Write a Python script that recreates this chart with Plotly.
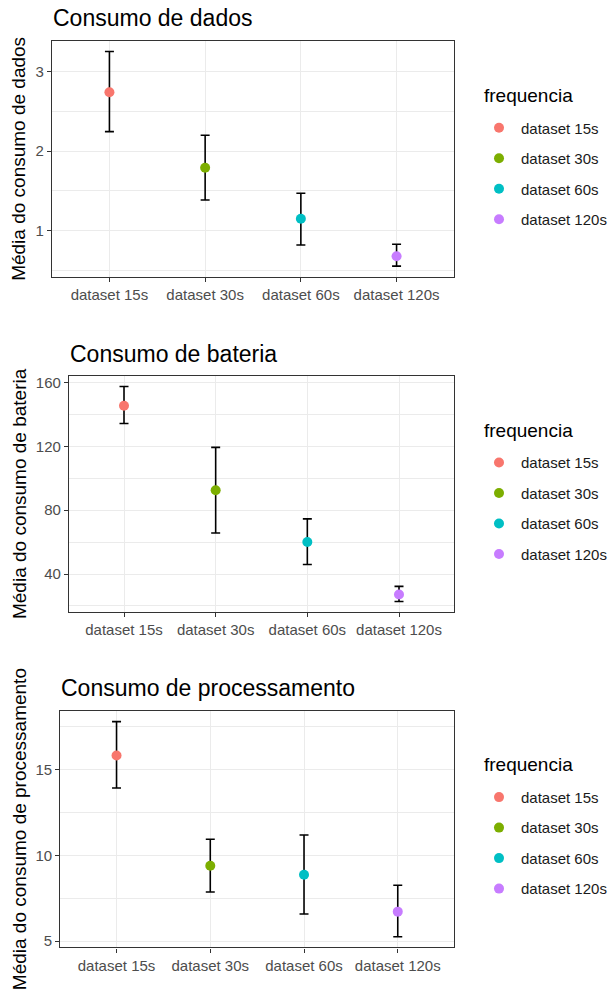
import plotly.graph_objects as go

categories = ["dataset 15s", "dataset 30s", "dataset 60s", "dataset 120s"]
colors = ["#F8766D", "#7CAE00", "#00BFC4", "#C77CFF"]

dados_mean = [2.74, 1.79, 1.15, 0.68]
dados_upper = [3.25, 2.20, 1.47, 0.83]
dados_lower = [2.245, 1.385, 0.82, 0.555]

bateria_mean = [145.5, 92.5, 60.1, 27.2]
bateria_upper = [157.5, 119.4, 74.6, 32.3]
bateria_lower = [134.3, 65.7, 46.0, 22.8]

proc_mean = [15.81, 9.39, 8.87, 6.72]
proc_upper = [17.78, 10.93, 11.18, 8.26]
proc_lower = [13.92, 7.86, 6.58, 5.26]

titles = ["Consumo de dados", "Consumo de bateria", "Consumo de processamento"]
ytitles = ["Média do consumo de dados", "Média do consumo de bateria",
           "Média do consumo de processamento"]
yticks = [[1, 2, 3], [40, 80, 120, 160], [5, 10, 15]]
yminor = [0.5, 20, 2.5]
legend_title = "frequencia"

W, H = 615, 999
FONT = "Liberation Sans, Arial, sans-serif"

# panel pixel boxes: (left, right, top, bottom)
boxes = [(52, 454, 39, 276), (69, 454, 375.3, 612.7), (60.3, 454, 711.7, 949.3)]
title_pos = [(51, 16), (68, 353), (59, 689)]
legend_title_y = [94, 430, 766]

panels = [(dados_mean, dados_upper, dados_lower),
          (bateria_mean, bateria_upper, bateria_lower),
          (proc_mean, proc_upper, proc_lower)]

fig = go.Figure()
annotations = []
layout = {}
for i, (mean, up, lo) in enumerate(panels):
    k = "" if i == 0 else str(i + 1)
    xa, ya = "x" + k, "y" + k
    lg = "legend" + k
    fig.add_trace(go.Scatter(
        x=categories, y=mean, mode="markers", xaxis=xa, yaxis=ya,
        marker=dict(size=1, opacity=0), showlegend=False, hoverinfo="skip",
        error_y=dict(type="data", symmetric=False,
                     array=[u - m for u, m in zip(up, mean)],
                     arrayminus=[m - l for m, l in zip(mean, lo)],
                     color="black", thickness=1.6, width=4.5)))
    for c, m, col in zip(categories, mean, colors):
        fig.add_trace(go.Scatter(
            x=[c], y=[m], mode="markers", name=c, xaxis=xa, yaxis=ya,
            marker=dict(size=10, color=col), legend=lg, legendgroup=lg + c))
    lo_all, hi_all = min(lo), max(up)
    span = hi_all - lo_all
    yr = [lo_all - 0.05 * span, hi_all + 0.05 * span]
    L, R, T, B = boxes[i]
    layout["xaxis" + k] = dict(
        domain=[L / W, R / W], anchor=ya, type="category",
        categoryorder="array", categoryarray=categories, range=[-0.6, 3.6],
        showgrid=True, gridcolor="#EBEBEB", gridwidth=1.1,
        showline=True, linecolor="#333333", linewidth=1.3, mirror=True,
        ticks="outside", ticklen=4, tickcolor="#333333", tickwidth=1.1,
        tickfont=dict(family=FONT, size=15, color="#4D4D4D"), zeroline=False)
    layout["yaxis" + k] = dict(
        domain=[(H - B) / H, (H - T) / H], anchor=xa, range=yr,
        tickvals=yticks[i], showgrid=True, gridcolor="#EBEBEB", gridwidth=1.1,
        minor=dict(dtick=yminor[i], tick0=0, showgrid=True, gridcolor="#EBEBEB",
                   gridwidth=0.6, ticks=""),
        showline=True, linecolor="#333333", linewidth=1.3, mirror=True,
        ticks="outside", ticklen=4, tickcolor="#333333", tickwidth=1.1,
        tickfont=dict(family=FONT, size=15, color="#4D4D4D"), zeroline=False)
    ly = legend_title_y[i]
    layout[lg] = dict(
        x=477 / W, xanchor="left", y=(H - (ly + 16)) / H, yanchor="top",
        font=dict(family=FONT, size=15, color="#1A1A1A"), itemwidth=34,
        bgcolor="rgba(0,0,0,0)", tracegroupgap=8)
    annotations.append(dict(
        text=legend_title, x=482 / W, y=(H - ly) / H, xref="paper", yref="paper",
        xanchor="left", yanchor="middle", showarrow=False,
        font=dict(family=FONT, size=19, color="black")))
    tx, ty = title_pos[i]
    annotations.append(dict(
        text=titles[i], x=tx / W, y=(H - ty) / H, xref="paper", yref="paper",
        xanchor="left", yanchor="middle", showarrow=False,
        font=dict(family=FONT, size=23, color="black")))
    annotations.append(dict(
        text=ytitles[i], x=19 / W, y=(H - (T + B) / 2) / H, xref="paper",
        yref="paper", xanchor="center", yanchor="middle", textangle=-90,
        showarrow=False, font=dict(family=FONT, size=19, color="black")))

fig.update_layout(
    width=W, height=H, margin=dict(l=0, r=0, t=0, b=0),
    paper_bgcolor="white", plot_bgcolor="white",
    annotations=annotations, **layout)

fig.write_html("out.html")
